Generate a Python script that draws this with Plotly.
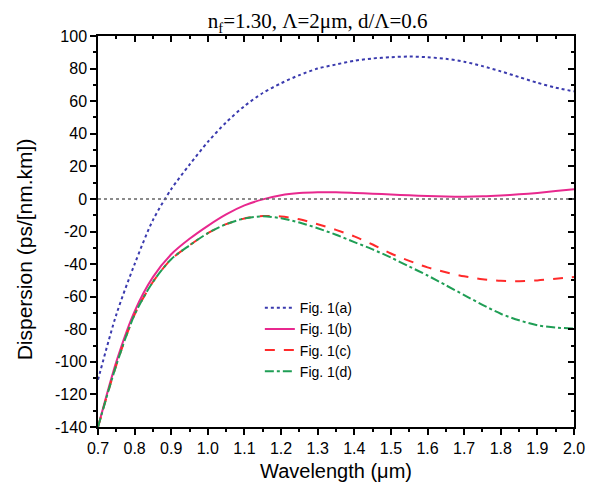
import plotly.graph_objects as go

# wavelength grid (um)
wavelength = [0.70, 0.75, 0.80, 0.85, 0.90, 0.95, 1.00, 1.05, 1.10, 1.15,
              1.20, 1.25, 1.30, 1.35, 1.40, 1.45, 1.50, 1.55, 1.60, 1.65,
              1.70, 1.75, 1.80, 1.85, 1.90, 1.95, 2.00]

# dispersion (ps/[nm.km])
fig_1a = [-111, -71, -40, -13, 6, 21, 35, 47, 57, 65,
          71, 76, 80, 82.5, 84.8, 86.2, 87, 87.4, 87, 86,
          84.2, 81.5, 78.3, 74.8, 71.3, 68.3, 66]
fig_1b = [-140, -100, -69, -48, -34, -24.5, -16.5, -9.5, -4, -0.3,
          2.3, 3.6, 4.1, 4.1, 3.7, 3.2, 2.7, 2.2, 1.8, 1.5,
          1.4, 1.6, 2.1, 2.8, 3.7, 4.8, 6]
fig_1c = [-140, -102, -71, -51, -37, -28.5, -21, -15.5, -12, -10.5,
          -10.8, -12.5, -15.5, -19, -23, -28, -33.5, -38, -42, -45,
          -47.5, -49.3, -50.3, -50.5, -50, -49, -48]
fig_1d = [-140, -102, -71, -51, -37, -28.5, -21, -15.5, -12, -10.7,
          -11.8, -14.5, -18, -22, -26.5, -31, -36, -41.5, -47, -53,
          -59, -65, -70.5, -74.5, -77.5, -79, -79.5]

# tick labels (plain hyphen minus, as in the original)
y_ticks = [-140, -120, -100, -80, -60, -40, -20, 0, 20, 40, 60, 80, 100]
y_ticktext = ["-140", "-120", "-100", "-80", "-60", "-40", "-20", "0", "20", "40", "60", "80", "100"]

series = [
    ("Fig. 1(a)", fig_1a, "#3a3aae", "dot"),
    ("Fig. 1(b)", fig_1b, "#e8288e", "solid"),
    ("Fig. 1(c)", fig_1c, "#ff2a2a", "10px,9px"),
    ("Fig. 1(d)", fig_1d, "#1f9e55", "dashdot"),
]

sans = "Liberation Sans, Arial, sans-serif"

fig = go.Figure()

for name, values, color, dash in series:
    fig.add_trace(go.Scatter(
        x=wavelength, y=values, name=name, mode="lines",
        line=dict(color=color, width=2, dash=dash, shape="spline", smoothing=0.8),
    ))

# empty trace so the mirrored (inside-tick) axes get drawn
fig.add_trace(go.Scatter(x=[], y=[], xaxis="x2", yaxis="y2", showlegend=False))

# zero reference line
fig.add_hline(y=0, line=dict(color="#666666", width=1.5, dash="dot"))

# y axis title, sitting a bit below the plot centre like the original
fig.add_annotation(
    text="Dispersion (ps/[nm.km])", textangle=-90,
    xref="paper", yref="paper", x=-0.155, y=0.455,
    xanchor="center", yanchor="middle", showarrow=False,
    font=dict(family=sans, size=21, color="black"),
)

axis_font = dict(family=sans, size=16, color="black")

fig.update_layout(
    width=580, height=480,
    margin=dict(l=90, r=14, t=28, b=61),
    paper_bgcolor="white", plot_bgcolor="white",
    font=dict(family=sans, color="black"),
    title=dict(
        text="n<sub>f</sub>=1.30, Λ=2μm, d/Λ=0.6",
        x=0.534, xanchor="center", y=0.988, yanchor="top",
        font=dict(family="Liberation Serif, Times New Roman, serif", size=21, color="black"),
    ),
    showlegend=True,
    legend=dict(
        x=0.34, y=0.345, xanchor="left", yanchor="top",
        bgcolor="rgba(0,0,0,0)", tracegroupgap=0,
        font=dict(family=sans, size=14, color="black"),
    ),
    xaxis=dict(
        range=[0.7, 2.0], dtick=0.1, tick0=0.7, tickformat=".1f",
        ticks="outside", ticklen=6, tickwidth=1.5, tickcolor="black",
        minor=dict(dtick=0.05, ticks="outside", ticklen=3, tickwidth=1.5, tickcolor="black"),
        showline=True, linecolor="black", linewidth=1.5,
        showgrid=False, zeroline=False, automargin=False,
        tickfont=axis_font,
        title=dict(text="Wavelength (μm)", font=dict(family=sans, size=20, color="black"),
                   standoff=8),
    ),
    yaxis=dict(
        range=[-140, 100], tickvals=y_ticks, ticktext=y_ticktext,
        ticks="outside", ticklen=6, tickwidth=1.5, tickcolor="black",
        minor=dict(dtick=10, ticks="outside", ticklen=3, tickwidth=1.5, tickcolor="black"),
        showline=True, linecolor="black", linewidth=1.5,
        showgrid=False, zeroline=False, automargin=False,
        tickfont=axis_font,
    ),
    xaxis2=dict(
        overlaying="x", side="top", range=[0.7, 2.0], dtick=0.1, tick0=0.7,
        ticks="inside", ticklen=6, tickwidth=1.5, tickcolor="black",
        minor=dict(dtick=0.05, ticks="inside", ticklen=3, tickwidth=1.5, tickcolor="black"),
        showticklabels=False, showline=True, linecolor="black", linewidth=1.5,
        showgrid=False, zeroline=False, automargin=False,
    ),
    yaxis2=dict(
        overlaying="y", side="right", range=[-140, 100], dtick=20,
        ticks="inside", ticklen=6, tickwidth=1.5, tickcolor="black",
        minor=dict(dtick=10, ticks="inside", ticklen=3, tickwidth=1.5, tickcolor="black"),
        showticklabels=False, showline=True, linecolor="black", linewidth=1.5,
        showgrid=False, zeroline=False, automargin=False,
    ),
)

fig.write_html("out.html")
